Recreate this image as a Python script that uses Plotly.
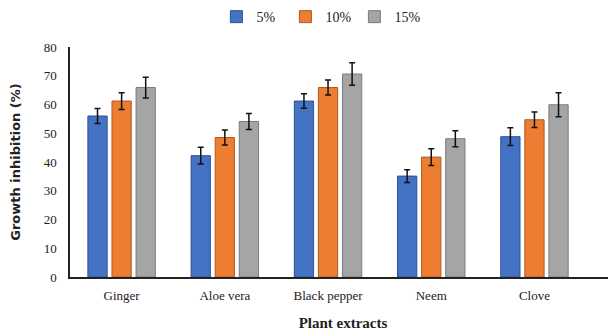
import plotly.graph_objects as go

categories = ["Ginger", "Aloe vera", "Black pepper", "Neem", "Clove"]
series_names = ["5%", "10%", "15%"]
values_5 = [56.0, 42.2, 61.2, 35.1, 48.8]
values_10 = [61.2, 48.5, 65.9, 41.7, 54.7]
values_15 = [65.9, 54.1, 70.6, 48.1, 59.9]
err_5 = [2.6, 2.9, 2.5, 2.2, 3.1]
err_10 = [2.9, 2.6, 2.6, 2.9, 2.7]
err_15 = [3.6, 2.8, 3.9, 2.8, 4.2]
y_ticks = [0, 10, 20, 30, 40, 50, 60, 70, 80]

fills = ["#4472C4", "#ED7D31", "#A5A5A5"]
lines = ["#2F528F", "#AE5A21", "#7B7B7B"]
font = "Liberation Serif, Times New Roman, serif"

fig = go.Figure()
for name, vals, errs, fc, lc in zip(series_names, [values_5, values_10, values_15],
                                    [err_5, err_10, err_15], fills, lines):
    fig.add_trace(go.Bar(
        x=categories, y=vals, name=name,
        marker=dict(color=fc, line=dict(color=lc, width=1)),
        error_y=dict(type="data", array=errs, visible=True, color="#111111",
                     thickness=1.5, width=3),
    ))

# page body has an 8px default margin, so the figure is offset by (8, 8)
fig.update_layout(
    width=608, height=323,
    margin=dict(l=62, r=0, t=39, b=54, autoexpand=False),
    paper_bgcolor="white", plot_bgcolor="white",
    barmode="group", bargap=0.30, bargroupgap=0.2,
    font=dict(family=font, size=13, color="#222222"),
    showlegend=True,
    legend=dict(orientation="h", x=0.513, xanchor="center", xref="container",
                y=0.972, yanchor="middle", yref="container",
                font=dict(family=font, size=14, color="#222222"),
                itemwidth=30, traceorder="normal",
                entrywidth=24, entrywidthmode="pixels"),
    xaxis=dict(range=[-0.5, 4.79], showline=True, linecolor="#222222", linewidth=1.5,
               ticks="", showgrid=False, tickfont=dict(size=13), automargin=False,
               ticklabelstandoff=6,
               title=dict(text="<b>Plant extracts</b>", font=dict(size=15), standoff=22)),
    yaxis=dict(range=[0, 80], tickvals=y_ticks, showline=True, linecolor="#222222",
               linewidth=1.5, ticks="", showgrid=False, zeroline=False, automargin=False,
               tickfont=dict(size=13), ticklabelstandoff=9,
               title=dict(text="<b>Growth inhibition (%)</b>",
                          font=dict(family="DejaVu Sans, sans-serif", size=13), standoff=20)),
)

fig.write_html("out.html")
